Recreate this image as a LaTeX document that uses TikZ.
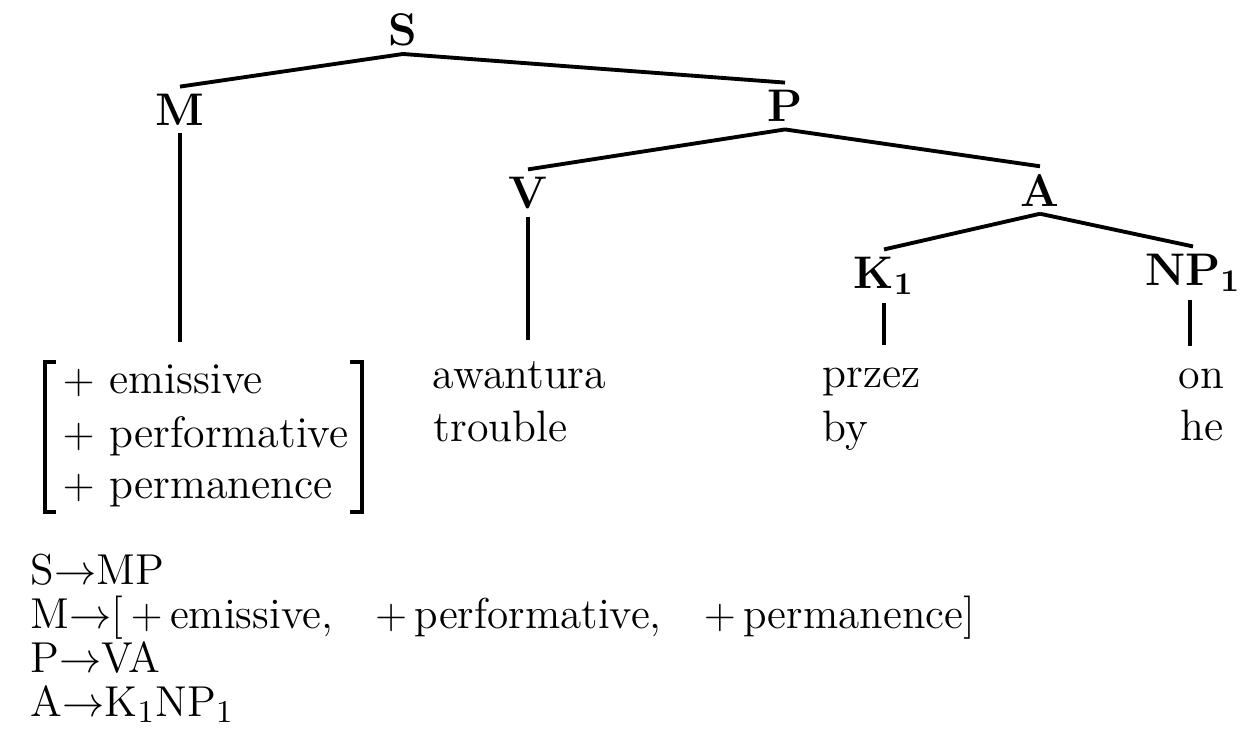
\documentclass[tikz,border=0pt]{standalone}
\usetikzlibrary{calc}
\begin{document}
\begin{tikzpicture}[x=0.01cm,y=-0.01cm,
  lab/.style={font=\fontsize{13}{15}\selectfont\bfseries, inner sep=2pt},
  word/.style={font=\fontsize{12.5}{15}\selectfont, inner sep=0pt, anchor=base west},
  rule/.style={font=\fontsize{12.3}{14}\selectfont, inner sep=0pt, anchor=base west},
  edge/.style={line width=1.1pt},
  brack/.style={line width=1.4pt}]
\useasboundingbox (0,0) rectangle (1243,744);
% tree labels
\node[lab] (S) at (403,30) {S};
\node[lab] (M) at (180,110) {M};
\node[lab] (P) at (785,106) {P};
\node[lab] (V) at (528,193) {V};
\node[lab] (A) at (1040,190) {A};
\node[lab] (K) at (884,276) {K$_{\mathbf 1}$};
\node[lab] (NP) at (1193,273) {NP$_{\mathbf 1}$};
% feature matrix
\node[word] (f1) at (62,393) {$+$\,\,emissive};
\node[word] (f2) at (62,447) {$+$\,\,performative};
\node[word] (f3) at (62,498) {$+$\,\,permanence};
\draw[brack] (56,362) -- (45,362) -- (45,512) -- (56,512);
\draw[brack] (350,362) -- (362,362) -- (362,512) -- (350,512);
% words
\node[word] (aw) at (432,388) {awantura};
\node[word] (tr) at (433,441) {trouble};
\node[word] (pz) at (822,387) {przez};
\node[word] (by) at (822,441) {by};
\node[word] (on) at (1178,388) {on};
\node[word] (he) at (1180,440) {he};
% rules
\node[rule] (r1) at (30,584) {S$\rightarrow$MP};
\node[rule] (r2) at (30,628) {M$\rightarrow$[\,$+$\,emissive,\ \ \ $+$\,performative,\ \ \ $+$\,permanence]};
\node[rule] (r3) at (30,672) {P$\rightarrow$VA};
\node[rule] (r4) at (30,716) {A$\rightarrow$K$_1$NP$_1$};
% edges
\draw[edge] (S.south) -- (M.north);
\draw[edge] (S.south) -- (P.north);
\draw[edge] (P.south) -- (V.north);
\draw[edge] (P.south) -- (A.north);
\draw[edge] (A.south) -- (K.north);
\draw[edge] (A.south) -- (NP.north);
\draw[edge] (M.south) -- ($(M.south |- f1.north)+(0,-22)$);
\draw[edge] (V.south) -- ($(V.south |- aw.north)+(0,-20)$);
\draw[edge] (K.south) -- ($(K.south |- pz.north)+(0,-22)$);
\draw[edge] ($(NP.south)+(-3,0)$) -- ($(NP.south |- on.north)+(-3,-22)$);
\end{tikzpicture}
\end{document}
